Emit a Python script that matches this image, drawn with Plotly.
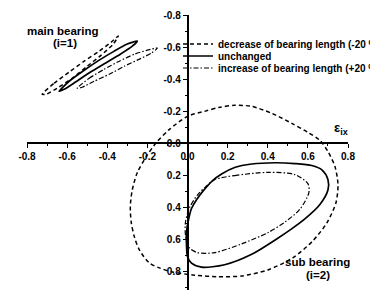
import plotly.graph_objects as go

# ---------------- data ----------------
# main bearing (i=1)
main_dec_x = [-0.725, -0.665, -0.59, -0.515, -0.44, -0.38, -0.345, -0.37, -0.43, -0.50, -0.575, -0.65, -0.705, -0.725]
main_dec_y = [-0.306, -0.375, -0.444, -0.5125, -0.575, -0.631, -0.669, -0.619, -0.55, -0.481, -0.406, -0.344, -0.306, -0.306]

main_unc_x = [-0.64, -0.59, -0.515, -0.44, -0.365, -0.30, -0.25, -0.275, -0.335, -0.41, -0.485, -0.56, -0.615, -0.64]
main_unc_y = [-0.325, -0.3875, -0.456, -0.519, -0.575, -0.619, -0.6375, -0.606, -0.556, -0.50, -0.444, -0.381, -0.3375, -0.325]

main_inc_x = [-0.55, -0.49, -0.415, -0.34, -0.265, -0.20, -0.15, -0.18, -0.24, -0.315, -0.39, -0.465, -0.525, -0.55]
main_inc_y = [-0.344, -0.406, -0.4625, -0.5125, -0.556, -0.581, -0.594, -0.5625, -0.525, -0.481, -0.431, -0.3875, -0.35, -0.344]

# sub bearing (i=2)
sub_dec_x = [0.0, 0.085, 0.16, 0.235, 0.32, 0.42, 0.52, 0.60, 0.66, 0.70, 0.735, 0.75, 0.74, 0.695, 0.625,
             0.525, 0.40, 0.27, 0.15, 0.035, -0.075, -0.14, -0.19, -0.24, -0.265, -0.28, -0.285, -0.275,
             -0.25, -0.205, -0.155, -0.09, 0.0]
sub_dec_y = [-0.169, -0.2, -0.225, -0.2375, -0.231, -0.1875, -0.125, -0.069, -0.019, 0.05, 0.144, 0.256,
             0.369, 0.494, 0.606, 0.7125, 0.7875, 0.825, 0.83, 0.82, 0.80, 0.775, 0.744, 0.6625, 0.58,
             0.494, 0.394, 0.2875, 0.181, 0.081, -0.006, -0.0875, -0.169]

sub_unc_x = [0.125, 0.17, 0.235, 0.32, 0.435, 0.535, 0.62, 0.67, 0.70, 0.70, 0.66, 0.585, 0.51, 0.45, 0.32,
             0.185, 0.07, 0.02, 0.0, -0.005, -0.005, 0.005, 0.02, 0.045, 0.075, 0.125]
sub_unc_y = [0.231, 0.19, 0.15, 0.128, 0.12, 0.125, 0.1375, 0.165, 0.225, 0.29, 0.38, 0.47, 0.54, 0.59, 0.69,
             0.755, 0.77, 0.745, 0.705, 0.63, 0.55, 0.475, 0.405, 0.35, 0.30, 0.231]

sub_inc_x = [0.135, 0.235, 0.40, 0.535, 0.60, 0.605, 0.56, 0.485, 0.40, 0.27, 0.135, 0.05, 0.01, -0.01,
             -0.01, 0.01, 0.05, 0.09, 0.135]
sub_inc_y = [0.225, 0.2, 0.18, 0.194, 0.25, 0.306, 0.41, 0.49, 0.556, 0.625, 0.68, 0.68, 0.65, 0.57,
             0.49, 0.40, 0.32, 0.27, 0.225]

series_names = ["decrease of bearing length (-20 %)", "unchanged", "increase of bearing length (+20 %)"]

x_tickvals = [-0.8, -0.6, -0.4, -0.2, 0.0, 0.2, 0.4, 0.6, 0.8]
x_ticktext = ["-0.8", "-0.6", "-0.4", "-0.2", "0.0", "0.2", "0.4", "0.6", "0.8"]
y_tickvals = [-0.8, -0.6, -0.4, -0.2, 0.0, 0.2, 0.4, 0.6, 0.8]
y_ticktext = ["-0.8", "-0.6", "-0.4", "-0.2", "0.0", "0.2", "0.4", "0.6", "0.8"]

# ---------------- figure ----------------
FONT = "Liberation Sans, Arial, sans-serif"
styles = [dict(dash="4px,3px", width=1.5), dict(dash="solid", width=1.7), dict(dash="5px,2px,1.5px,2px", width=1.2)]
legends = ["legend", "legend2", "legend3"]

fig = go.Figure()
main_sets = [(main_dec_x, main_dec_y), (main_unc_x, main_unc_y), (main_inc_x, main_inc_y)]
sub_sets = [(sub_dec_x, sub_dec_y), (sub_unc_x, sub_unc_y), (sub_inc_x, sub_inc_y)]
for i in range(3):
    st = styles[i]
    fig.add_trace(go.Scatter(x=main_sets[i][0], y=main_sets[i][1], mode="lines", name=series_names[i],
                             line=dict(color="black", width=st["width"], dash=st["dash"], shape="spline", smoothing=0.6),
                             legend=legends[i], legendgroup=str(i), showlegend=True))
    fig.add_trace(go.Scatter(x=sub_sets[i][0], y=sub_sets[i][1], mode="lines", name=series_names[i],
                             line=dict(color="black", width=st["width"], dash=st["dash"], shape="spline", smoothing=0.8),
                             legend=legends[i], legendgroup=str(i), showlegend=False))

yr = [0.9125, -0.8]
y0_frac = yr[0] / (yr[0] - yr[1])

axis_common = dict(showline=True, linecolor="black", linewidth=1.5, ticks="outside", ticklen=4,
                   tickwidth=1.2, tickcolor="black", showgrid=False, zeroline=False,
                   tickfont=dict(family=FONT, size=10, color="black", weight="bold"),
                   tickmode="array", anchor="free",
                   minor=dict(ticks="outside", ticklen=2, tickwidth=1, tickcolor="black", tick0=-0.8, dtick=0.1,
                              showgrid=False))

fig.update_layout(
    width=370, height=304,
    margin=dict(l=27, r=22, t=15, b=14, autoexpand=False),
    plot_bgcolor="white", paper_bgcolor="white",
    font=dict(family=FONT, color="black"),
    xaxis=dict(range=[-0.8, 0.8], tickvals=x_tickvals, ticktext=x_ticktext, position=y0_frac, **axis_common),
    yaxis=dict(range=yr, tickvals=y_tickvals, ticktext=y_ticktext, position=0.5, **axis_common),
)

leg_common = dict(xanchor="left", yanchor="middle", bgcolor="rgba(0,0,0,0)", borderwidth=0, itemwidth=30,
                  font=dict(family=FONT, size=10, color="black", weight="bold"))
leg_y_px = [44, 56, 68]
leg_x = (178 - 27) / 321
for name, ypx in zip(legends, leg_y_px):
    fig.update_layout({name: dict(x=leg_x, y=(290 - ypx) / 275, **leg_common)})

ann_font = dict(family=FONT, size=11.5, color="black", weight="bold")
fig.add_annotation(x=-0.62, y=-0.70, text="main bearing", showarrow=False, font=ann_font)
fig.add_annotation(x=-0.61, y=-0.625, text="(i=1)", showarrow=False, font=ann_font)
fig.add_annotation(x=0.65, y=0.7375, text="sub bearing", showarrow=False, font=ann_font)
fig.add_annotation(x=0.65, y=0.82, text="(i=2)", showarrow=False, font=ann_font)
eps_font = dict(family=FONT, size=13, color="black", weight="bold")
fig.add_annotation(x=0.765, y=-0.094, text="ε<sub>ix</sub>", showarrow=False, font=eps_font)
fig.add_annotation(x=0.06, y=0.9375, text="ε<sub>iy</sub>", showarrow=False, font=eps_font)

fig.write_html("out.html", config={"displayModeBar": False},
               post_script="document.body.style.margin='0';")
